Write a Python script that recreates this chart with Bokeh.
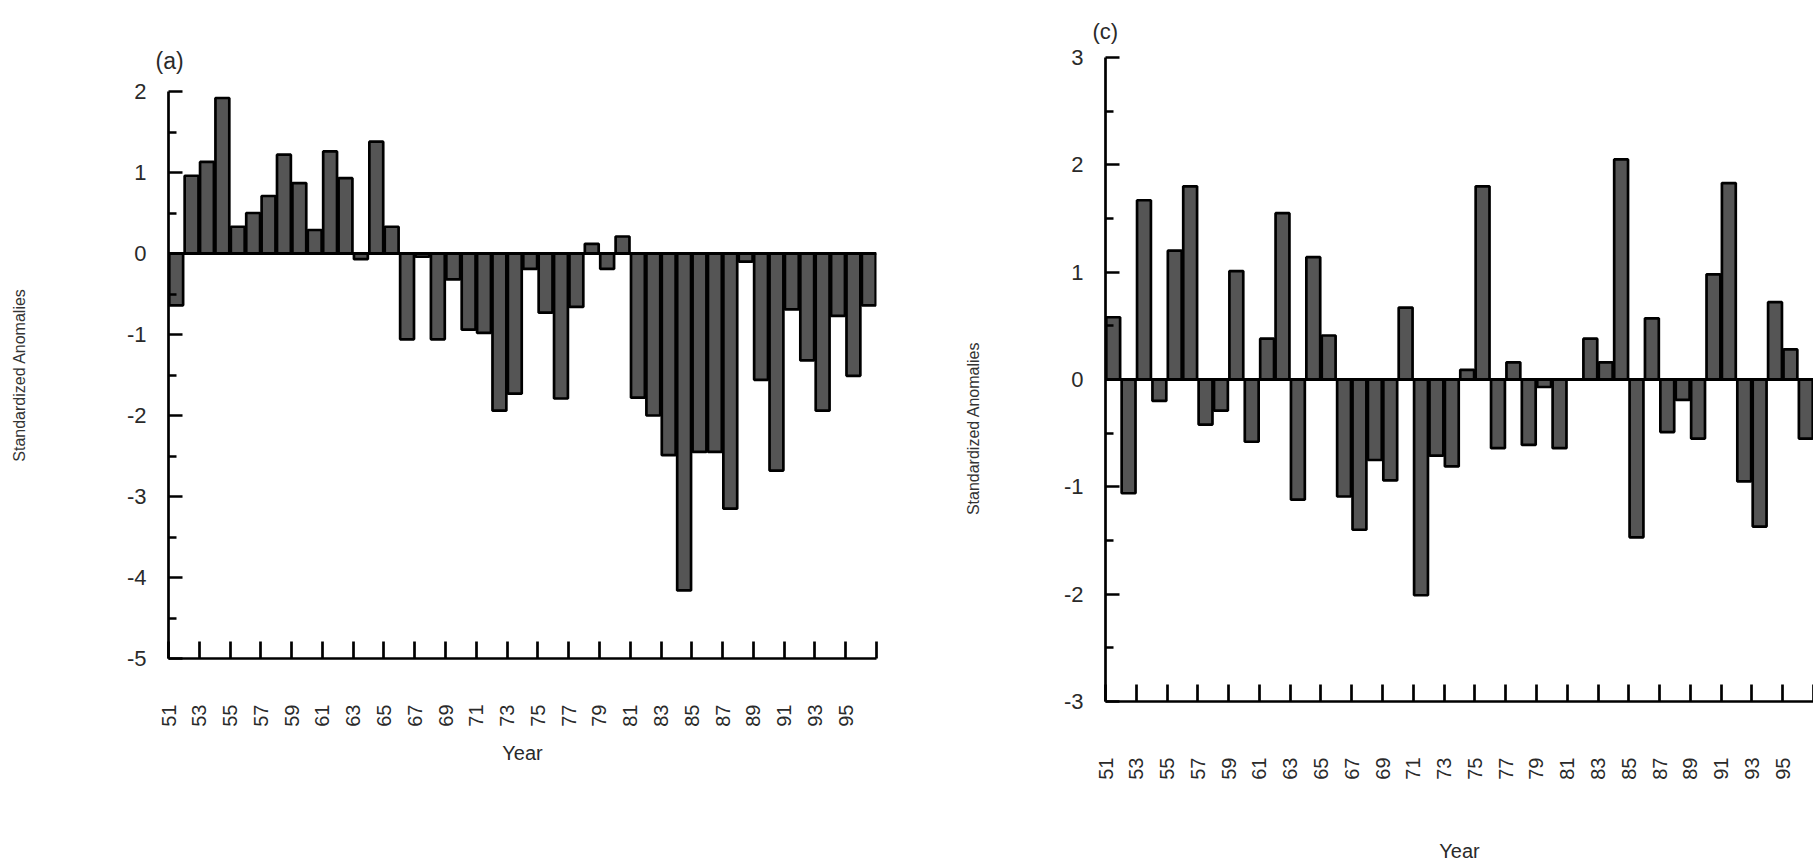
import math
from bokeh.plotting import figure
from bokeh.layouts import row
from bokeh.models import FixedTicker, Span, Range1d
from bokeh.embed import file_html
from bokeh.resources import INLINE

# ---------------- data ----------------
years = list(range(1951, 1997))

anomalies_a = [
    -0.64, 0.96, 1.13, 1.92, 0.33, 0.50, 0.71, 1.22, 0.87, 0.29,
    1.26, 0.93, -0.07, 1.38, 0.33, -1.06, -0.04, -1.06, -0.32, -0.94,
    -0.98, -1.94, -1.73, -0.19, -0.73, -1.79, -0.66, 0.12, -0.19, 0.21,
    -1.78, -2.00, -2.49, -4.16, -2.45, -2.45, -3.15, -0.10, -1.56, -2.68,
    -0.69, -1.32, -1.94, -0.77, -1.51, -0.64,
]

anomalies_c = [
    0.58, -1.06, 1.67, -0.20, 1.20, 1.80, -0.42, -0.29, 1.01, -0.58,
    0.38, 1.55, -1.12, 1.14, 0.41, -1.09, -1.40, -0.75, -0.94, 0.67,
    -2.01, -0.71, -0.81, 0.09, 1.80, -0.64, 0.16, -0.61, -0.07, -0.64,
    0.00, 0.38, 0.16, 2.05, -1.47, 0.57, -0.49, -0.19, -0.55, 0.98,
    1.83, -0.95, -1.37, 0.72, 0.28, -0.55,
]

x_tick_pos = [1950.5 + 2 * i for i in range(24)]
x_tick_labels = ["51", "53", "55", "57", "59", "61", "63", "65", "67", "69",
                 "71", "73", "75", "77", "79", "81", "83", "85", "87", "89",
                 "91", "93", "95", ""]

y_ticks_a = [-5, -4, -3, -2, -1, 0, 1, 2]
y_labels_a = ["-5", "-4", "-3", "-2", "-1", "0", "1", "2"]
y_ticks_c = [-3, -2, -1, 0, 1, 2, 3]
y_labels_c = ["-3", "-2", "-1", "0", "1", "2", "3"]

panel_letters = ["(a)", "(c)"]
x_title = "Year"
y_title = "Standardized Anomalies"

FONT = "Liberation Sans"
TXT = "#2a2a2a"
NBSP = "\u00a0"


def make_panel(values, y_ticks, y_labels, letter, letter_size, letter_standoff,
               frame_w, frame_h, b_left, b_right, b_top, b_bottom,
               lab_standoff, xl_standoff, yl_standoff, ylab_text):
    p = figure(frame_width=frame_w, frame_height=frame_h,
               x_range=Range1d(1950.5, 1996.5),
               y_range=Range1d(y_ticks[0], y_ticks[-1]),
               min_border_left=b_left, min_border_right=b_right,
               min_border_top=b_top, min_border_bottom=b_bottom,
               output_backend="svg", toolbar_location=None)
    p.frame_align = False
    p.outline_line_color = None
    p.xgrid.visible = False
    p.ygrid.visible = False
    p.background_fill_color = "white"
    p.border_fill_color = "white"

    # panel letter as left-aligned title
    p.title.text = letter
    p.title.align = "left"
    p.title.offset = -13
    p.title.standoff = letter_standoff
    p.title.text_font = FONT
    p.title.text_font_style = "normal"
    p.title.text_font_size = letter_size
    p.title.text_color = TXT

    p.vbar(x=years, top=values, bottom=0, width=0.9,
           fill_color="#555555", line_color="black", line_width=2.7)
    p.add_layout(Span(location=0, dimension="width",
                      line_color="black", line_width=3))

    # x axis
    xa = p.xaxis[0]
    xa.ticker = FixedTicker(ticks=x_tick_pos, minor_ticks=[])
    xa.major_label_overrides = {pos: lab for pos, lab in zip(x_tick_pos, x_tick_labels)}
    xa.major_label_orientation = math.pi / 2
    xa.major_tick_in = 17
    xa.major_tick_out = 0
    xa.minor_tick_in = 0
    xa.minor_tick_out = 0
    xa.axis_line_width = 2.7
    xa.major_tick_line_width = 2.7
    xa.major_label_standoff = lab_standoff
    xa.major_label_text_font = FONT
    xa.major_label_text_font_size = "20px"
    xa.major_label_text_color = TXT
    xa.axis_label = x_title
    xa.axis_label_text_font = FONT
    xa.axis_label_text_font_style = "normal"
    xa.axis_label_text_font_size = "20px"
    xa.axis_label_text_color = TXT
    xa.axis_label_standoff = xl_standoff

    # y axis
    ya = p.yaxis[0]
    minor = [t + 0.5 for t in y_ticks[:-1]]
    ya.ticker = FixedTicker(ticks=y_ticks, minor_ticks=minor)
    ya.major_label_overrides = {t: lab for t, lab in zip(y_ticks, y_labels)}
    ya.major_tick_in = 14
    ya.major_tick_out = 0
    ya.minor_tick_in = 8
    ya.minor_tick_out = 0
    ya.axis_line_width = 2.7
    ya.major_tick_line_width = 2.7
    ya.minor_tick_line_width = 2.7
    ya.major_label_standoff = 22
    ya.major_label_text_font = FONT
    ya.major_label_text_font_size = "22px"
    ya.major_label_text_color = TXT
    ya.axis_label = ylab_text
    ya.axis_label_text_font = FONT
    ya.axis_label_text_font_style = "normal"
    ya.axis_label_text_font_size = "16px"
    ya.axis_label_text_color = "#333333"
    ya.axis_label_standoff = yl_standoff
    return p


pa = make_panel(anomalies_a, y_ticks_a, y_labels_a, panel_letters[0], "23px", 36,
                frame_w=708, frame_h=567, b_left=168, b_right=64,
                b_top=91, b_bottom=206, lab_standoff=46, xl_standoff=12,
                yl_standoff=96, ylab_text=y_title)

pc = make_panel(anomalies_c, y_ticks_c, y_labels_c, panel_letters[1], "22px", 28,
                frame_w=708, frame_h=644, b_left=165, b_right=0,
                b_top=57, b_bottom=163, lab_standoff=56, xl_standoff=57,
                yl_standoff=79, ylab_text=y_title + NBSP * 22)

layout = row(pa, pc)
open("out.html", "w").write(file_html(layout, INLINE))
